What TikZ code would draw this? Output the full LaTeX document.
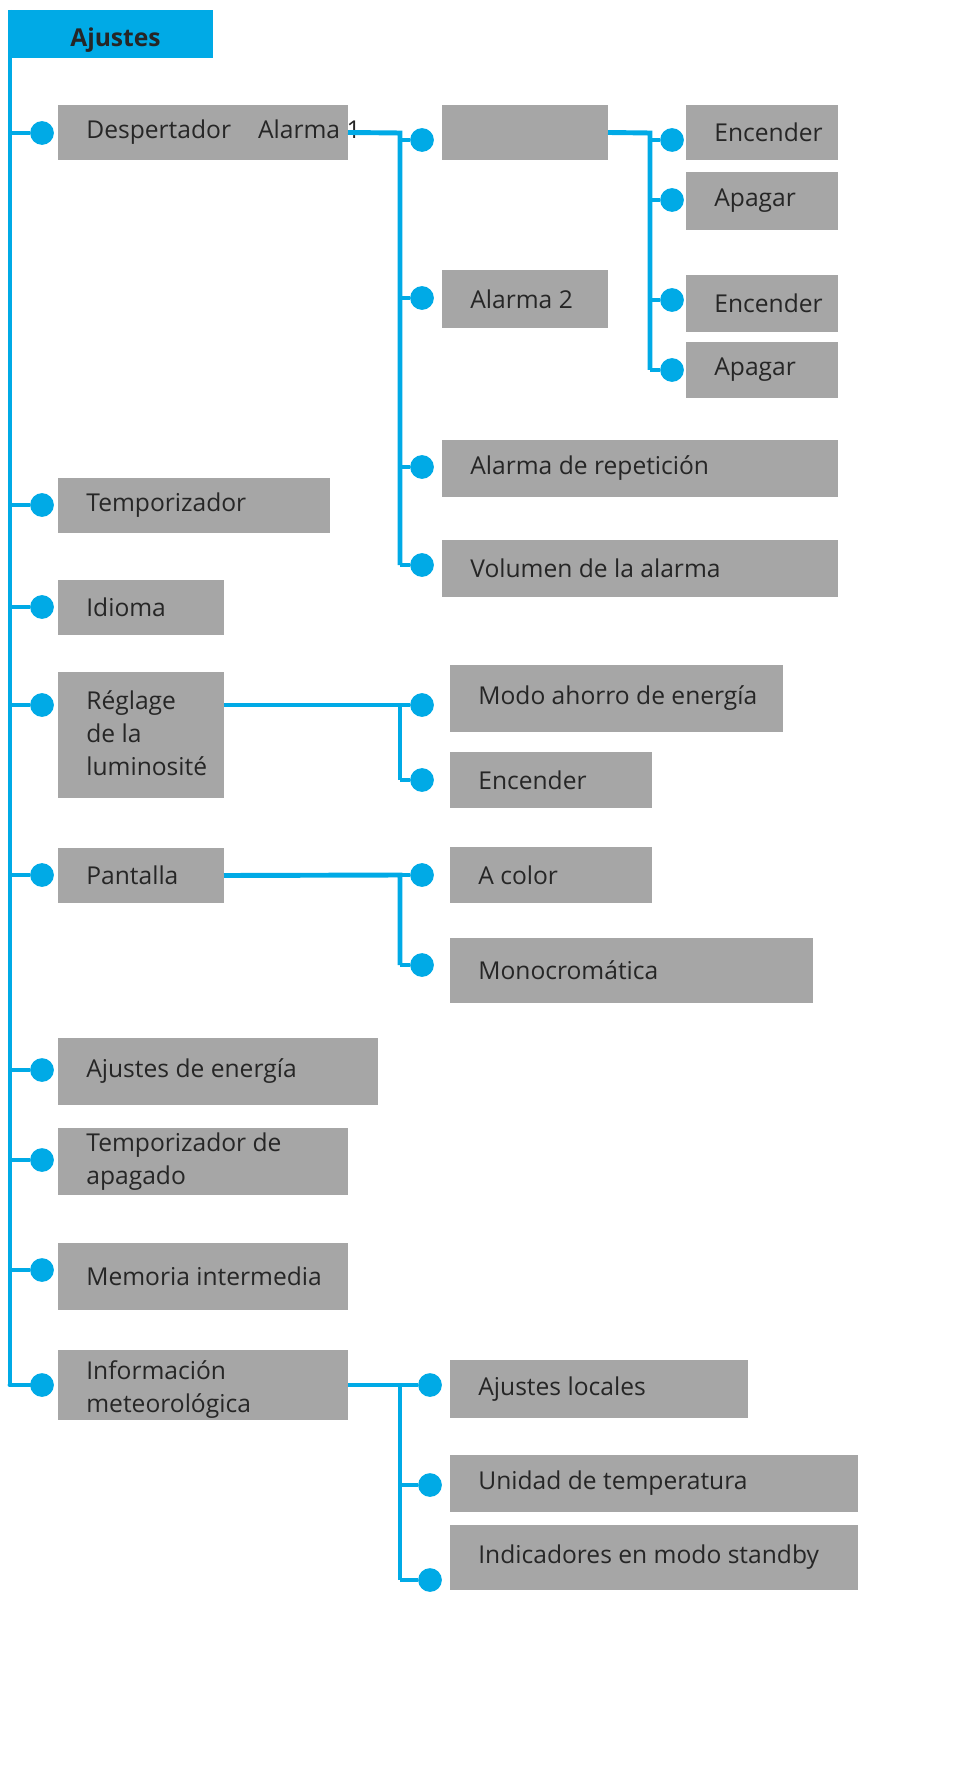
\documentclass[tikz,border=0pt]{standalone}
\usepackage{fontspec}
\setmainfont{Open Sans}
\definecolor{menublue}{RGB}{0,170,230}
\definecolor{menugray}{RGB}{166,166,166}
\tikzset{
  menubox/.style={fill=menugray, draw=none},
  menutext/.style={anchor=west, inner sep=0pt, align=left, font=\fontsize{14}{19}\selectfont, text=black!85},
  wire/.style={menublue, line width=2.8pt},
  dot/.style={circle, fill=menublue, inner sep=0pt, minimum size=13.5pt}
}
% box: name, x1, y1, x2, y2, text x offset, text
\newcommand{\menuentry}[7]{%
  \fill[menubox] (#2,#3) rectangle (#4,#5);
  \node[menutext] (#1) at ({#2+#6},{(#3+#5)/2}) {#7};
  \coordinate (#1-w) at (#2,{(#3+#5)/2});
  \coordinate (#1-e) at (#4,{(#3+#5)/2});
}
\begin{document}
\begin{tikzpicture}[x={(0.02cm,0)}, y={(0,-0.02cm)}]
  \useasboundingbox (0,0) rectangle (971,1773);

  %header
  \fill[menublue] (10,10) rectangle (213,58);
  \node[menutext, font=\fontsize{14}{19}\selectfont\bfseries] (ajustes) at (70,40) {Ajustes};
  \coordinate (trunk-top) at (10,10);
  \coordinate (trunk-bot) at (10,1385);

  %level 1
  \menuentry{despertador}{58}{105}{348}{160}{28}{Despertador\hspace{1.1em}Alarma 1}
  \menuentry{temporizador}{58}{478}{330}{533}{28}{Temporizador}
  \menuentry{idioma}{58}{580}{224}{635}{28}{Idioma}
  \fill[menubox] (58,672) rectangle (224,798);
  \node[menutext, anchor=north west] (reglage) at (86,690) {Réglage\\de la\\luminosité};
  \coordinate (reglage-e) at (224,705);
  \menuentry{pantalla}{58}{848}{224}{903}{28}{Pantalla}
  \menuentry{energia}{58}{1038}{378}{1105}{28}{Ajustes de energía}
  \menuentry{apagado}{58}{1128}{348}{1195}{28}{Temporizador de\\apagado}
  \menuentry{memoria}{58}{1243}{348}{1310}{28}{Memoria intermedia}
  \fill[menubox] (58,1350) rectangle (348,1420);
  \node[menutext, anchor=north west] (meteo) at (86,1360) {Información\\meteorológica};
  \coordinate (meteo-e) at (348,1385);

  %level 2
  \menuentry{alarmauno}{442}{105}{608}{160}{28}{}
  \menuentry{alarmados}{442}{270}{608}{328}{28}{Alarma 2}
  \menuentry{repeticion}{442}{440}{838}{497}{28}{Alarma de repetición}
  \menuentry{volumen}{442}{540}{838}{597}{28}{Volumen de la alarma}
  \menuentry{ahorro}{450}{665}{783}{732}{28}{Modo ahorro de energía}
  \menuentry{lumon}{450}{752}{652}{808}{28}{Encender}
  \menuentry{acolor}{450}{847}{652}{903}{28}{A color}
  \menuentry{mono}{450}{938}{813}{1003}{28}{Monocromática}
  \menuentry{locales}{450}{1360}{748}{1418}{28}{Ajustes locales}
  \menuentry{unidad}{450}{1455}{858}{1512}{28}{Unidad de temperatura}
  \menuentry{standby}{450}{1525}{858}{1590}{28}{Indicadores en modo standby}

  %level 3
  \menuentry{onA}{686}{105}{838}{160}{28}{Encender}
  \menuentry{offA}{686}{172}{838}{230}{28}{Apagar}
  \menuentry{onB}{686}{275}{838}{332}{28}{Encender}
  \menuentry{offB}{686}{342}{838}{398}{28}{Apagar}

  %trunk
  \draw[wire] (trunk-top) -- (trunk-bot);
  \foreach \yy/\nm in {133/despertador,505/temporizador,607/idioma,705/reglage,875/pantalla,1070/energia,1160/apagado,1270/memoria,1385/meteo}
    \node[dot] (d-\nm) at (42,\yy) {};
  \foreach \nm in {despertador,temporizador,idioma,reglage,pantalla,energia,apagado,memoria,meteo}
    \draw[wire] (10,0 |- d-\nm) -- (d-\nm);
  \draw[wire, line cap=round] (trunk-bot) -- (d-meteo);

  %branches
  \coordinate (bA) at (400,133);
  \draw[wire] (despertador-e) -- (bA) -- (400,565);
  \foreach \yy/\nm in {140/alarmauno,298/alarmados,467/repeticion,565/volumen} {
    \node[dot] (d-\nm) at (422,\yy) {};
    \draw[wire] (400,\yy) -- (d-\nm);
  }
  \coordinate (bB) at (650,133);
  \draw[wire] (alarmauno-e) -- (bB) -- (650,370);
  \foreach \yy/\nm in {140/onA,200/offA,300/onB,370/offB} {
    \node[dot] (d-\nm) at (672,\yy) {};
    \draw[wire] (650,\yy) -- (d-\nm);
  }
  \draw[wire] (reglage-e) -- (400,705) -- (400,780);
  \foreach \yy/\nm in {705/ahorro,780/lumon} {
    \node[dot] (d-\nm) at (422,\yy) {};
    \draw[wire] (400,\yy) -- (d-\nm);
  }
  \draw[wire] (pantalla-e) -- (400,875) -- (400,965);
  \foreach \yy/\nm in {875/acolor,965/mono} {
    \node[dot] (d-\nm) at (422,\yy) {};
    \draw[wire] (400,\yy) -- (d-\nm);
  }
  \draw[wire] (meteo-e) -- (400,1385) -- (400,1580);
  \foreach \yy/\nm in {1385/locales,1485/unidad,1580/standby} {
    \node[dot] (d-\nm) at (430,\yy) {};
    \draw[wire] (400,\yy) -- (d-\nm);
  }
\end{tikzpicture}
\end{document}
